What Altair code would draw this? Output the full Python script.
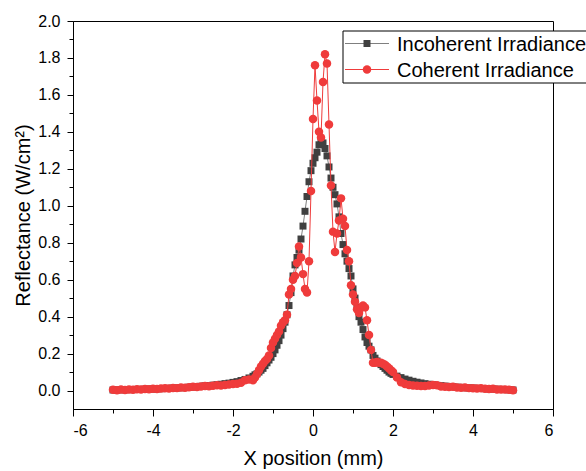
import altair as alt
import pandas as pd

# ---------------- data ----------------
inc_x = [-5.0, -4.9, -4.8, -4.7, -4.6, -4.5, -4.4, -4.3, -4.2, -4.1,
         -4.0, -3.9, -3.8, -3.7, -3.6, -3.5, -3.4, -3.3, -3.2, -3.1,
         -3.0, -2.9, -2.8, -2.7, -2.6, -2.5, -2.4, -2.3, -2.2, -2.1,
         -2.0, -1.9, -1.8, -1.7, -1.6, -1.5,
         -1.45, -1.4, -1.35, -1.3, -1.25, -1.2, -1.15, -1.1, -1.05, -1.0,
         -0.95, -0.9, -0.85, -0.8, -0.75, -0.7, -0.65, -0.6, -0.55, -0.5,
         -0.45, -0.4, -0.35, -0.3, -0.25, -0.2, -0.15, -0.1, -0.05, 0.0,
         0.05, 0.1, 0.15, 0.2, 0.25, 0.3, 0.35, 0.4, 0.45, 0.5,
         0.55, 0.6, 0.65, 0.7, 0.75, 0.8, 0.85, 0.9, 0.95, 1.0,
         1.05, 1.1, 1.15, 1.2, 1.25, 1.3, 1.35, 1.4, 1.45, 1.5,
         1.55, 1.6, 1.65, 1.7, 1.75, 1.8, 1.85, 1.9, 1.95, 2.0,
         2.1, 2.2, 2.3, 2.4, 2.5, 2.6, 2.7, 2.8, 2.9, 3.0,
         3.1, 3.2, 3.3, 3.4, 3.5, 3.6, 3.7, 3.8, 3.9, 4.0,
         4.1, 4.2, 4.3, 4.4, 4.5, 4.6, 4.7, 4.8, 4.9, 5.0]
inc_y = [0.003, 0.003, 0.004, 0.004, 0.005, 0.005, 0.006, 0.006, 0.007, 0.008,
         0.008, 0.009, 0.010, 0.011, 0.012, 0.013, 0.014, 0.015, 0.016, 0.018,
         0.019, 0.021, 0.023, 0.025, 0.027, 0.029, 0.031, 0.034, 0.037, 0.040,
         0.044, 0.048, 0.054, 0.060, 0.068, 0.077,
         0.085, 0.090, 0.100, 0.110, 0.120, 0.135, 0.150, 0.165, 0.180, 0.200,
         0.220, 0.245, 0.270, 0.300, 0.335, 0.370, 0.410, 0.460, 0.530, 0.620,
         0.680, 0.720, 0.760, 0.820, 0.890, 0.970, 1.050, 1.130, 1.190, 1.230,
         1.260, 1.290, 1.330, 1.350, 1.340, 1.310, 1.270, 1.210, 1.150, 1.100,
         1.060, 1.010, 0.940, 0.850, 0.790, 0.740, 0.700, 0.660, 0.620, 0.550,
         0.500, 0.450, 0.400, 0.370, 0.330, 0.290, 0.260, 0.240, 0.220, 0.190,
         0.175, 0.160, 0.150, 0.140, 0.130, 0.120, 0.110, 0.100, 0.093, 0.087,
         0.078, 0.070, 0.062, 0.056, 0.050, 0.045, 0.041, 0.037, 0.034, 0.031,
         0.028, 0.026, 0.024, 0.022, 0.020, 0.018, 0.017, 0.015, 0.014, 0.013,
         0.012, 0.011, 0.010, 0.009, 0.008, 0.007, 0.006, 0.005, 0.004, 0.003]

coh_x = [-5.0, -4.9, -4.8, -4.7, -4.6, -4.5, -4.4, -4.3, -4.2, -4.1,
         -4.0, -3.9, -3.8, -3.7, -3.6, -3.5, -3.4, -3.3, -3.2, -3.1,
         -3.0, -2.9, -2.8, -2.7, -2.6, -2.5, -2.4, -2.3, -2.2, -2.1,
         -2.0, -1.9, -1.8, -1.7, -1.6, -1.5,
         -1.45, -1.4, -1.35, -1.3, -1.25, -1.2, -1.15, -1.1, -1.05, -1.0,
         -0.95, -0.9, -0.85, -0.8, -0.75, -0.7, -0.65, -0.6, -0.55, -0.5,
         -0.45, -0.4, -0.35, -0.3, -0.25, -0.2, -0.15, -0.1, -0.05, 0.0,
         0.05, 0.1, 0.15, 0.2, 0.25, 0.3, 0.35, 0.4, 0.45, 0.5,
         0.55, 0.6, 0.65, 0.7, 0.75, 0.8, 0.85, 0.9, 0.95, 1.0,
         1.05, 1.1, 1.15, 1.2, 1.25, 1.3, 1.35, 1.4, 1.45, 1.5,
         1.55, 1.6, 1.65, 1.7, 1.75, 1.8, 1.85, 1.9, 1.95, 2.0,
         2.1, 2.2, 2.3, 2.4, 2.5, 2.6, 2.7, 2.8, 2.9, 3.0,
         3.1, 3.2, 3.3, 3.4, 3.5, 3.6, 3.7, 3.8, 3.9, 4.0,
         4.1, 4.2, 4.3, 4.4, 4.5, 4.6, 4.7, 4.8, 4.9, 5.0]
coh_y = [0.004, 0.002, 0.005, 0.003, 0.006, 0.004, 0.007, 0.005, 0.008, 0.007,
         0.010, 0.008, 0.011, 0.012, 0.011, 0.014, 0.013, 0.016, 0.015, 0.018,
         0.020, 0.019, 0.022, 0.024, 0.023, 0.026, 0.028, 0.027, 0.030, 0.032,
         0.035, 0.037, 0.042, 0.055, 0.060, 0.055,
         0.070, 0.090, 0.110, 0.130, 0.145, 0.160, 0.170, 0.190, 0.230, 0.260,
         0.280, 0.300, 0.320, 0.350, 0.370, 0.380, 0.410, 0.520, 0.550, 0.600,
         0.620, 0.690, 0.780, 0.720, 0.630, 0.550, 0.530, 0.700, 1.080, 1.470,
         1.760, 1.570, 1.400, 1.370, 1.670, 1.820, 1.770, 1.440, 1.110, 0.860,
         0.750, 0.850, 0.920, 1.040, 0.930, 0.890, 0.760, 0.700, 0.570, 0.520,
         0.480, 0.440, 0.420, 0.450, 0.460, 0.450, 0.380, 0.300, 0.220, 0.150,
         0.150, 0.155, 0.150, 0.150, 0.145, 0.140, 0.130, 0.120, 0.110, 0.100,
         0.070, 0.045, 0.035, 0.030, 0.027, 0.026, 0.025, 0.024, 0.027, 0.030,
         0.028, 0.022, 0.021, 0.019, 0.020, 0.017, 0.015, 0.016, 0.013, 0.012,
         0.011, 0.012, 0.009, 0.008, 0.009, 0.006, 0.005, 0.006, 0.004, 0.002]

series_names = ["Incoherent Irradiance", "Coherent Irradiance"]
line_colors = ["#7f7f7f", "#ef3b3b"]
marker_colors = ["#404040", "#ef3b3b"]

x_ticks = [-6, -5, -4, -3, -2, -1, 0, 1, 2, 3, 4, 5, 6]
y_ticks = [0.0, 0.1, 0.2, 0.3, 0.4, 0.5, 0.6, 0.7, 0.8, 0.9, 1.0,
           1.1, 1.2, 1.3, 1.4, 1.5, 1.6, 1.7, 1.8, 1.9, 2.0]

inc = pd.DataFrame({"x": inc_x, "y": inc_y})
coh = pd.DataFrame({"x": coh_x, "y": coh_y})

FONT = "Arial, Liberation Sans, sans-serif"

xscale = alt.Scale(domain=[-6, 6], nice=False, zero=False)
yscale = alt.Scale(domain=[-0.1, 2.0], nice=False, zero=False)

common_axis = dict(
    grid=False, labelFont=FONT, titleFont=FONT, labelFontSize=16, titleFontSize=20,
    titleFontWeight="normal", labelColor="black", titleColor="black",
    domainColor="black", domainWidth=1, tickColor="black", tickWidth=1,
)

xaxis = alt.Axis(
    title="X position (mm)", values=x_ticks,
    labelExpr="datum.value % 2 == 0 ? '' + datum.value : ''",
    tickSize={"condition": {"test": "datum.value % 2 != 0", "value": 4}, "value": 7},
    labelPadding=6, titlePadding=10, **common_axis,
)
yaxis = alt.Axis(
    title="Reflectance (W/cm²)", values=y_ticks,
    labelExpr="abs(round(datum.value*10)) % 2 == 1 ? '' : format(datum.value, '.1f')",
    tickSize={"condition": {"test": "abs(round(datum.value*10)) % 2 == 1", "value": 4}, "value": 6},
    labelPadding=7, titlePadding=4, **common_axis,
)

X = alt.X("x:Q", scale=xscale, axis=xaxis)
Y = alt.Y("y:Q", scale=yscale, axis=yaxis)

inc_line = alt.Chart(inc).mark_line(color=line_colors[0], strokeWidth=1).encode(x=X, y=Y)
inc_pts = alt.Chart(inc).mark_point(shape="square", filled=True, size=49, opacity=1,
                                    color=marker_colors[0]).encode(x=X, y=Y)
coh_line = alt.Chart(coh).mark_line(color=line_colors[1], strokeWidth=1).encode(x=X, y=Y)
coh_pts = alt.Chart(coh).mark_point(shape="circle", filled=True, size=72, opacity=1,
                                    color=marker_colors[1]).encode(x=X, y=Y)

# ---------------- legend (drawn as decoration) ----------------
one = pd.DataFrame({"d": [0]})
leg_box = alt.Chart(one).mark_rect(fill="white", stroke="black", strokeWidth=1).encode(
    x=alt.value(270), x2=alt.value(530), y=alt.value(10), y2=alt.value(62))
leg_items = []
for i, (name, lc, mc, shp, sz) in enumerate(zip(series_names, line_colors, marker_colors,
                                                 ["square", "circle"], [49, 72])):
    yy = 22.5 + 26 * i
    leg_items.append(alt.Chart(one).mark_rule(color=lc, strokeWidth=1).encode(
        x=alt.value(272), x2=alt.value(316), y=alt.value(yy)))
    leg_items.append(alt.Chart(one).mark_point(shape=shp, filled=True, size=sz, opacity=1,
                                               color=mc).encode(
        x=alt.value(294), y=alt.value(yy)))
    leg_items.append(alt.Chart(one).mark_text(text=name, align="left", baseline="middle",
                                              fontSize=20, font=FONT, color="black").encode(
        x=alt.value(324), y=alt.value(yy + 1)))

chart = alt.layer(inc_line, inc_pts, coh_line, coh_pts, leg_box, *leg_items).properties(
    width=480, height=388,
    autosize=alt.AutoSizeParams(type="none"),
    padding={"left": 73, "top": 21, "right": 33, "bottom": 62},
    background="white",
).configure_view(stroke="black", strokeWidth=1)

chart.save("out.html", embed_options={"renderer": "svg", "actions": False})
